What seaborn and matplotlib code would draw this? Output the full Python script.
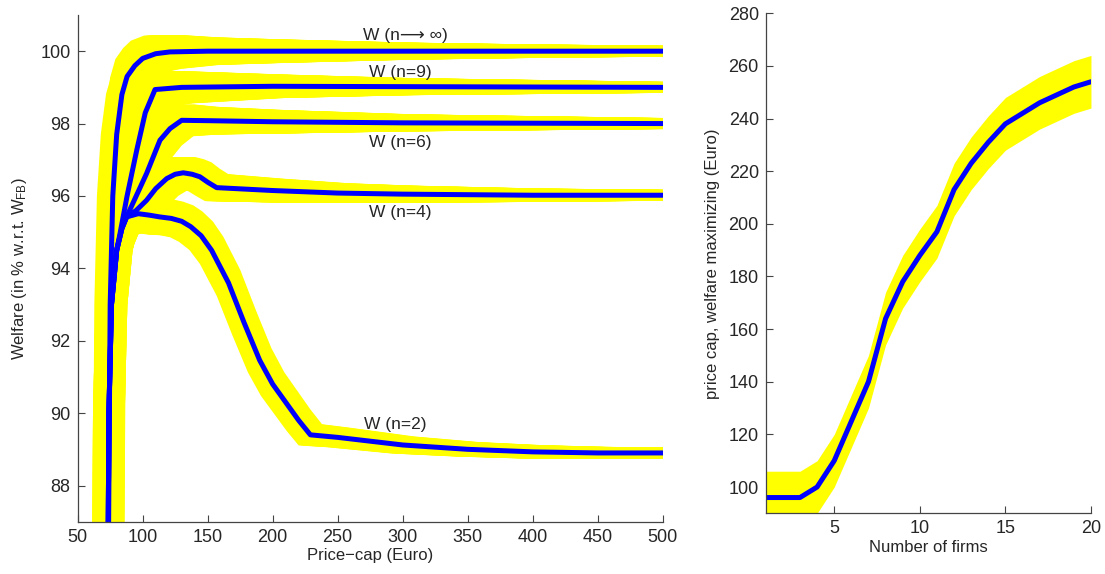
import numpy as np
import matplotlib
matplotlib.use("Agg")
import matplotlib.pyplot as plt
import seaborn as sns

# left panel: welfare vs price cap, one curve per number of firms
x_inf = [72.5, 74, 75, 77, 80, 84, 88, 94, 100, 110, 121, 150, 200, 300, 400, 500]
w_inf = [80, 88, 93, 96, 97.7, 98.8, 99.3, 99.6, 99.8, 99.93, 99.98, 100.0, 100.0, 100.0, 100.0, 100.0]

x_start = [72.5, 74, 76, 80, 84, 87.6]
w_start = [80, 90, 93, 94.5, 95.1, 95.42]

x_n9 = [72.5, 74, 76, 80, 82.5, 88, 95.4, 102, 109.5, 130, 200, 300, 500]
w_n9 = [80, 90, 93, 94.5, 94.95, 96.0, 97.26, 98.3, 98.94, 99.0, 99.03, 99.02, 99.0]

x_n6 = x_start + [103, 113.3, 121, 130, 150, 200, 300, 500]
w_n6 = w_start + [96.62, 97.54, 97.86, 98.09, 98.08, 98.05, 98.02, 98.0]

x_n4 = x_start + [95, 103, 110, 118.5, 125, 131.2, 138, 144, 150, 156.9, 200, 250, 300, 400, 500]
w_n4 = w_start + [95.6, 95.88, 96.2, 96.48, 96.6, 96.64, 96.6, 96.53, 96.38, 96.23, 96.15, 96.08,
                  96.05, 96.02, 96.02]

x_n2 = x_start + [96.6, 105, 113.3, 122, 130, 137, 145, 153, 166, 178, 190, 200, 211, 220, 229,
                  250, 300, 350, 400, 450, 500]
w_n2 = w_start + [95.51, 95.47, 95.42, 95.38, 95.3, 95.15, 94.9, 94.5, 93.6, 92.5, 91.46, 90.8,
                  90.25, 89.8, 89.4, 89.33, 89.12, 89.0, 88.93, 88.9, 88.9]

# half-height of the yellow band along the price-cap axis
band_x = [50, 110, 150, 250, 350, 500]
band_hw = [0.45, 0.5, 0.38, 0.27, 0.2, 0.15]
band_dx = 9  # horizontal spread of the band (Euro)

labels = ["W (n\u27f6 \u221e)", "W (n=9)", "W (n=6)", "W (n=4)", "W (n=2)"]
label_x = [302, 298, 298, 298, 294]
label_y = [100.44, 99.42, 97.48, 95.55, 89.69]

# right panel: welfare maximizing price cap vs number of firms
firms = list(range(1, 21))
cap = [96, 96, 96, 100, 110, 125, 140, 164, 178, 188, 197, 213, 223, 231, 238, 242, 246, 249, 252, 254]
cap_band = 10

sns.set_style("ticks")
plt.rcParams['font.family'] = ['Liberation Sans', 'DejaVu Sans']
plt.rcParams['mathtext.fontset'] = 'custom'
plt.rcParams['mathtext.rm'] = 'Liberation Sans'
plt.rcParams['mathtext.it'] = 'Liberation Sans:italic'

fig = plt.figure(figsize=(11.05, 5.74), dpi=100)
ax1 = fig.add_axes([0.0703, 0.0911, 0.5294, 0.8828])
ax2 = fig.add_axes([0.693, 0.1057, 0.2943, 0.8711])

yellow = "#ffff00"
blue = "#0000ff"

curves = [(x_inf, w_inf), (x_n9, w_n9), (x_n6, w_n6), (x_n4, w_n4), (x_n2, w_n2)]

# yellow bands first
for xs, ws in curves:
    xs = np.array(xs, dtype=float)
    ws = np.array(ws, dtype=float)
    hw = np.interp(xs, band_x, band_hw)
    for off in np.linspace(-band_dx, band_dx, 11):
        ax1.fill_between(xs + off, ws - hw, ws + hw, color=yellow, lw=0)
        ax1.plot(xs + off, ws, color=yellow, lw=6, solid_capstyle='round',
                 solid_joinstyle='round')

for xs, ws in curves:
    sns.lineplot(x=xs, y=ws, ax=ax1, color=blue, lw=3.6, sort=False, estimator=None)

for txt, lx, ly in zip(labels, label_x, label_y):
    ax1.text(lx, ly, txt, ha='center', va='center', fontsize=12.5)

ax1.set_xlim(50, 500)
ax1.set_ylim(87, 101)
ax1.set_xticks(range(50, 501, 50))
ax1.set_yticks(range(88, 101, 2))
ax1.set_xlabel("Price\u2212cap (Euro)", fontsize=12, labelpad=2)
ax1.set_ylabel("Welfare (in % w.r.t. W$_{\\rm FB}$)", fontsize=12, labelpad=8)

cap_arr = np.array(cap, dtype=float)
ax2.fill_between(firms, cap_arr - cap_band, cap_arr + cap_band, color=yellow, lw=0)
sns.lineplot(x=firms, y=cap, ax=ax2, color=blue, lw=3.6, sort=False, estimator=None)
ax2.set_xlim(1, 20)
ax2.set_ylim(90, 280)
ax2.set_xticks([5, 10, 15, 20])
ax2.set_yticks(range(100, 281, 20))
ax2.set_xlabel("Number of firms", fontsize=12, labelpad=2)
ax2.set_ylabel("price cap, welfare maximizing (Euro)", fontsize=12, labelpad=6)

for ax in (ax1, ax2):
    sns.despine(ax=ax)
    ax.tick_params(direction='in', length=5, width=0.8, labelsize=13, color='#444444', pad=5)
    for sp in ('left', 'bottom'):
        ax.spines[sp].set_color('#444444')
        ax.spines[sp].set_linewidth(0.9)

fig.savefig("out.png", dpi=100)
